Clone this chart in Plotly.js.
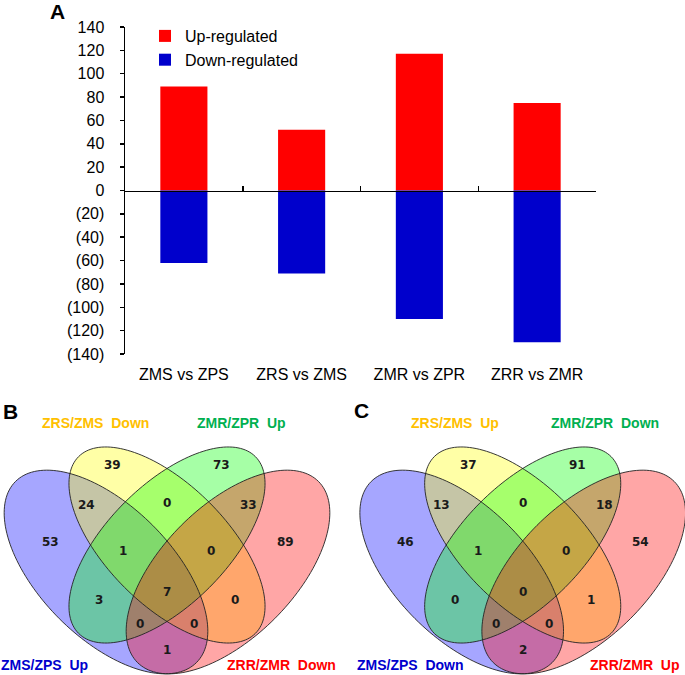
<!DOCTYPE html>
<html>
<head>
<meta charset="utf-8">
<script src="https://cdn.plot.ly/plotly-3.0.1.min.js"></script>
<style>html,body{margin:0;padding:0;background:#fff;}#chart{width:685px;height:675px;}</style>
</head>
<body>
<div id="chart"></div>
<script>
// ---------------- Data ----------------
const categories = ['ZMS vs ZPS', 'ZRS vs ZMS', 'ZMR vs ZPR', 'ZRR vs ZMR'];
const upRegulated = [89, 52, 117, 75];
const downRegulated = [-62, -71, -110, -130];
const seriesNames = ['Up-regulated', 'Down-regulated'];
const yTickValues = [140, 120, 100, 80, 60, 40, 20, 0, -20, -40, -60, -80, -100, -120, -140];
const yTickLabels = ['140', '120', '100', '80', '60', '40', '20', '0', '(20)', '(40)', '(60)', '(80)', '(100)', '(120)', '(140)'];

// Venn regions (same order in both panels)
const vennRegions = ['B', 'C', 'AB', 'BC', 'CD', 'A', 'ABC', 'BCD', 'D', 'ABCD', 'AC', 'BD', 'ACD', 'ABD', 'AD'];
const vennBCounts = [39, 73, 24, 0, 33, 53, 1, 0, 89, 7, 3, 0, 0, 0, 1];
const vennCCounts = [37, 91, 13, 0, 18, 46, 1, 0, 54, 0, 0, 1, 0, 0, 2];
const vennBSetLabels = ['ZMS/ZPS\u00a0\u00a0Up', 'ZRS/ZMS\u00a0\u00a0Down', 'ZMR/ZPR\u00a0\u00a0Up', 'ZRR/ZMR\u00a0\u00a0Down'];
const vennCSetLabels = ['ZMS/ZPS\u00a0\u00a0Down', 'ZRS/ZMS\u00a0\u00a0Up', 'ZMR/ZPR\u00a0\u00a0Down', 'ZRR/ZMR\u00a0\u00a0Up'];
const panelLabels = ['A', 'B', 'C'];

// ---------------- Layout geometry (pixels) ----------------
const W = 685, H = 675;
const plotL = 125, plotR = 596, plotT = 27, plotB = 354;
const yDomain = [1 - plotB / H, 1 - plotT / H];

// region label offsets relative to Venn center x; absolute y
const regionPos = {
  B: [-54.3, 465], C: [54.7, 465], AB: [-81, 505], BC: [0, 503], CD: [81.3, 505],
  A: [-117, 542], ABC: [-44.3, 551], BCD: [43.7, 551], D: [118, 542],
  ABCD: [0, 592], AC: [-67.7, 600], BD: [68, 600], ACD: [-27, 623.5], ABD: [26.5, 623.5], AD: [0, 650]
};
const vennCentersX = [167, 522.7];
// [dx, cy, semi-major, semi-minor, angle]
const ellipseDefs = [
  [-61, 572, 128, 66, 45], [0, 545, 125, 60, 45], [0, 545, 125, 60, -45], [61, 572, 128, 66, -45]
];
const setFills = ['rgba(0,0,255,0.35)', 'rgba(255,255,0,0.35)', 'rgba(0,255,0,0.35)', 'rgba(255,0,0,0.35)'];
const setLabelColors = ['#0000CD', '#FFC000', '#00B050', '#FF0000'];
const setLabelPos = [
  [[44, 665], [95, 423], [241, 423], [281, 665]],
  [[410, 665], [455, 423], [604.5, 423], [634.5, 665]]
];
const panelLabelPos = [[57.5, 11], [10.5, 411.5], [361, 410]];

function ellipsePath(cx, cy, a, b, deg) {
  const phi = deg * Math.PI / 180, n = 160;
  let d = '';
  for (let i = 0; i < n; i++) {
    const t = 2 * Math.PI * i / n;
    const x = cx + a * Math.cos(t) * Math.cos(phi) - b * Math.sin(t) * Math.sin(phi);
    const y = cy + a * Math.cos(t) * Math.sin(phi) + b * Math.sin(t) * Math.cos(phi);
    d += (i === 0 ? 'M' : 'L') + x.toFixed(2) + ',' + y.toFixed(2);
  }
  return d + 'Z';
}

// ---------------- Traces ----------------
const traces = [
  { type: 'bar', name: seriesNames[0], x: categories, y: upRegulated, width: 0.4,
    marker: { color: '#FF0000', line: { width: 0 } }, xaxis: 'x', yaxis: 'y', hoverinfo: 'x+y' },
  { type: 'bar', name: seriesNames[1], x: categories, y: downRegulated, width: 0.4,
    marker: { color: '#0000CC', line: { width: 0 } }, xaxis: 'x4', yaxis: 'y', hoverinfo: 'x+y' }
];

// ---------------- Shapes & annotations ----------------
const shapes = [];
const annotations = [];
vennCentersX.forEach((cx) => {
  ellipseDefs.forEach((e, i) => {
    shapes.push({ type: 'path', xref: 'x2', yref: 'y2', path: ellipsePath(cx + e[0], e[1], e[2], e[3], e[4]),
      fillcolor: setFills[i], line: { width: 0 } });
  });
  ellipseDefs.forEach((e) => {
    shapes.push({ type: 'path', xref: 'x2', yref: 'y2', path: ellipsePath(cx + e[0], e[1], e[2], e[3], e[4]),
      fillcolor: 'rgba(0,0,0,0)', line: { color: 'rgba(35,35,35,0.9)', width: 1 } });
  });
});
[vennBCounts, vennCCounts].forEach((counts, p) => {
  counts.forEach((c, i) => {
    const pos = regionPos[vennRegions[i]];
    annotations.push({ xref: 'x2', yref: 'y2', x: vennCentersX[p] + pos[0], y: pos[1], text: String(c),
      showarrow: false, font: { family: 'DejaVu Sans', size: 12, color: '#1a1a1a', weight: 'bold' } });
  });
});
[vennBSetLabels, vennCSetLabels].forEach((labels, p) => {
  labels.forEach((t, i) => {
    annotations.push({ xref: 'x2', yref: 'y2', x: setLabelPos[p][i][0], y: setLabelPos[p][i][1], text: '<b>' + t + '</b>',
      showarrow: false, font: { family: 'Liberation Sans, Arial', size: 14, color: setLabelColors[i] } });
  });
});
panelLabels.forEach((t, i) => {
  annotations.push({ xref: 'x2', yref: 'y2', x: panelLabelPos[i][0], y: panelLabelPos[i][1], text: '<b>' + t + '</b>',
    showarrow: false, font: { family: 'Liberation Sans, Arial', size: 21, color: '#000' } });
});

const layout = {
  width: W, height: H,
  margin: { l: 0, r: 0, t: 0, b: 0, pad: 0 },
  paper_bgcolor: '#fff', plot_bgcolor: 'rgba(0,0,0,0)',
  font: { family: 'Liberation Sans, Arial, sans-serif', size: 16, color: '#000' },
  barmode: 'relative',
  showlegend: true,
  legend: { x: 145 / W, y: 1 - 19 / H, xanchor: 'left', yanchor: 'top', bgcolor: 'rgba(0,0,0,0)',
    font: { size: 16 }, itemwidth: 30, tracegroupgap: 0, traceorder: 'normal' },
  xaxis: {
    domain: [plotL / W, plotR / W], type: 'category', categoryarray: categories, range: [-0.5, 3.5],
    anchor: 'free', position: (yDomain[0] + yDomain[1]) / 2,
    showline: true, linecolor: '#000', linewidth: 1.5, ticks: 'inside', ticklen: 5, tickwidth: 1.5, tickcolor: '#000',
    tickson: 'boundaries', showticklabels: false, showgrid: false, zeroline: false, fixedrange: true
  },
  xaxis4: {
    overlaying: 'x', anchor: 'y', side: 'bottom', type: 'category', categoryarray: categories, range: [-0.5, 3.5],
    tickmode: 'array', tickvals: categories, ticktext: categories,
    showline: false, ticks: '', showgrid: false, zeroline: false, ticklabelstandoff: 9,
    tickfont: { size: 16, color: '#000' }, fixedrange: true
  },
  yaxis: {
    domain: yDomain, range: [-140, 140], anchor: 'x',
    tickmode: 'array', tickvals: yTickValues, ticktext: yTickLabels,
    showline: true, linecolor: '#000', linewidth: 1.5, ticks: 'outside', ticklen: 4, tickwidth: 1.5, tickcolor: '#000',
    showgrid: false, zeroline: false, ticklabelstandoff: 12, tickfont: { size: 16, color: '#000' }, fixedrange: true
  },
  xaxis2: { domain: [0, 1], range: [0, W], anchor: 'y2', visible: false, fixedrange: true },
  yaxis2: { domain: [0, 1], range: [H, 0], anchor: 'x2', visible: false, fixedrange: true },
  shapes: shapes,
  annotations: annotations
};

Plotly.newPlot('chart', traces, layout, { displayModeBar: false, staticPlot: true });
</script>
</body>
</html>
